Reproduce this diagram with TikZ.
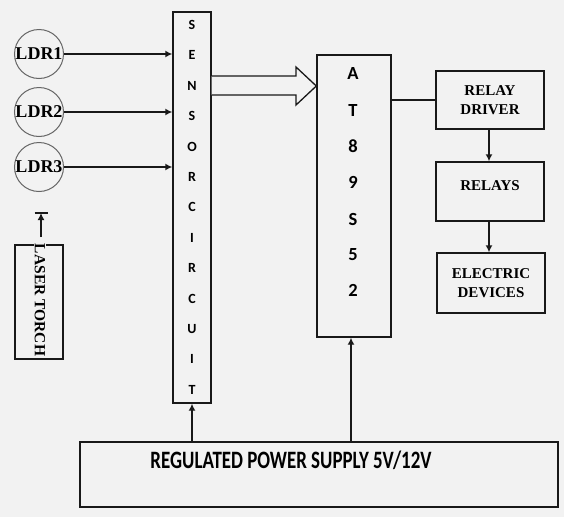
\documentclass[tikz,border=0pt]{standalone}
\usepackage{fontspec}
\setmainfont{Liberation Serif}
\newfontfamily\calib{Carlito}
\usetikzlibrary{arrows.meta}
\definecolor{bg}{RGB}{242,242,242}
\definecolor{ink}{RGB}{25,25,25}
\begin{document}
\begin{tikzpicture}[x=1pt,y=-1pt,
  box/.style={draw=ink,line width=1.4pt,inner sep=0pt},
  ldr/.style={circle,draw=gray!80!black,line width=1pt,minimum size=49pt,inner sep=0pt,
    font=\fontsize{18}{18}\selectfont\bfseries},
  arr/.style={draw=ink,line width=1.8pt,-{Latex[length=7pt,width=7pt]}},
  ln/.style={draw=ink,line width=1.8pt},
  senl/.style={inner sep=0pt,font=\fontsize{14}{14}\selectfont\calib\bfseries},
  atl/.style={inner sep=0pt,font=\fontsize{18.5}{18}\selectfont\calib\bfseries},
  sert/.style={inner sep=0pt,align=center,font=\fontsize{15}{19}\selectfont\bfseries},
  hollow/.style={draw=ink,line width=1.3pt,fill=bg,line join=miter}]
\useasboundingbox[fill=bg] (0,0) rectangle (564,517);

% blocks
\node[box,minimum width=38pt,minimum height=391pt] (sensor) at (192,207.5) {};
\node[box,minimum width=74pt,minimum height=282pt] (at) at (354,196) {};
\node[box,minimum width=108pt,minimum height=58pt,sert] (rd) at (490,100) {RELAY\\DRIVER};
\node[box,minimum width=108pt,minimum height=59pt] (rel) at (490,191.5) {};
\node[sert] (reltext) at (490,185.5) {RELAYS};
\node[box,minimum width=108pt,minimum height=60pt,sert] (ed) at (491,283) {ELECTRIC\\DEVICES};
\node[box,line width=1.8pt,minimum width=478pt,minimum height=65pt] (psu) at (319,474.5) {};
\node[inner sep=0pt,anchor=base] (psutext) at (291,468)
  {\resizebox{281pt}{\height}{\fontsize{25}{25}\selectfont\calib\bfseries REGULATED POWER SUPPLY 5V/12V}};

% sensor letters
\foreach \c [count=\i from 0] in {S,E,N,S,O,R,C,I,R,C,U,I,T}
  \node[senl] (sl\i) at (192,{25+30.4*\i}) {\c};
% AT89S52 letters
\foreach \c/\y [count=\i] in {A/73,T/110,8/146,9/182,S/219,5/255,2/290}
  \node[atl] (al\i) at (353,\y) {\c};

% LDRs
\node[ldr] (ldr1) at (39,54) {LDR1};
\node[ldr] (ldr2) at (39,112) {LDR2};
\node[ldr] (ldr3) at (39,167) {LDR3};
\draw[arr] (ldr1.east) -- (sensor.west |- ldr1.east);
\draw[arr] (ldr2.east) -- (sensor.west |- ldr2.east);
\draw[arr] (ldr3.east) -- (sensor.west |- ldr3.east);

% laser torch
\node[box,line width=1.3pt,minimum width=48pt,minimum height=114pt] (laser) at (39,302) {};
\node[inner sep=1pt,fill=bg,rotate=-90,font=\fontsize{15.5}{16}\selectfont\bfseries] (lasertext) at (40,300) {LASER TORCH};
\coordinate (lasertip) at (41,213);
\coordinate (laserfoot) at (41,237);
\draw[arr] (laserfoot) -- (lasertip);
\draw[draw=ink,line width=1.3pt] ([xshift=-6.5pt]lasertip) -- ([xshift=6.5pt]lasertip);

% hollow arrow sensor -> AT
\draw[hollow] (sensor.east |- 0,76) -- (296,76) -- (296,67) -- (at.west |- 0,86)
  -- (296,105) -- (296,95) -- (sensor.east |- 0,95);

% right chain
\coordinate (chain) at (489,0);
\draw[ln] (at.east |- rd.west) -- (rd.west);
\draw[arr] (rd.south -| chain) -- (rel.north -| chain);
\draw[arr] (rel.south -| chain) -- (ed.north -| chain);

% power arrows
\coordinate (atfeed) at (351,0);
\draw[arr] (sensor.south |- psu.north) -- (sensor.south);
\draw[arr] (psu.north -| atfeed) -- (at.south -| atfeed);
\end{tikzpicture}
\end{document}
